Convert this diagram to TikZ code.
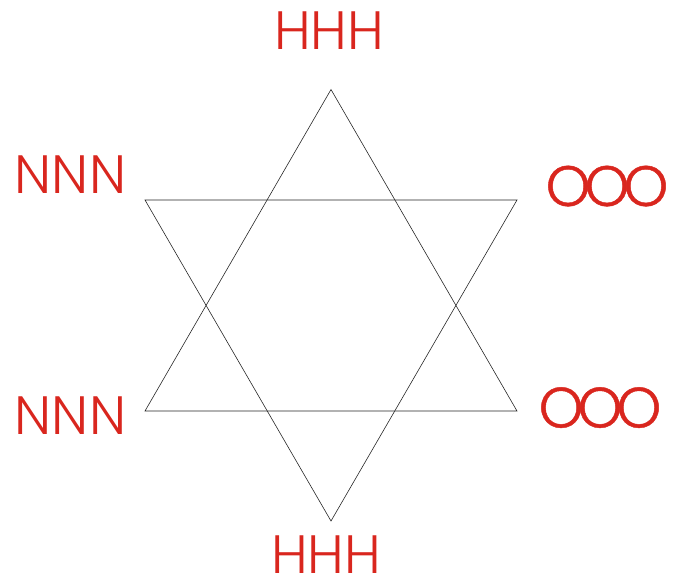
\documentclass[tikz,border=0pt]{standalone}
\usepackage{fontspec}
\setmainfont{Poppins Light}
\newfontfamily\ofont{Poppins Light}[FakeBold=0.8]
\definecolor{labred}{RGB}{217,38,30}
\tikzset{
  edge/.style={draw=black!85, line width=0.6pt, line join=miter},
  lbl/.style={text=labred, font=\fontsize{54}{54}\selectfont, inner sep=0pt, anchor=base}
}
\newcommand{\ooo}{{\ofont\fontsize{57}{57}\selectfont O\kern-6pt O\kern-6pt O}}
\begin{document}
\begin{tikzpicture}[x=1pt,y=-1pt]
\useasboundingbox (0,0) rectangle (677,579);
\coordinate (T) at (331,89.5);
\coordinate (B) at (331,521);
\coordinate (LT) at (145,200);
\coordinate (RT) at (517,200);
\coordinate (LB) at (145,411);
\coordinate (RB) at (517,411);
\draw[edge] (T) -- (RB) -- (LB) -- cycle;
\draw[edge] (LT) -- (RT) -- (B) -- cycle;
\node[lbl] (h1) at (329,49) {HHH};
\node[lbl] (n1) at (70.5,193) {NNN};
\node[lbl] (o1) at (607,206) {\ooo};
\node[lbl] (n2) at (70.5,434.5) {NNN};
\node[lbl] (o2) at (600,427.5) {\ooo};
\node[lbl] (h2) at (326,573) {HHH};
\end{tikzpicture}
\end{document}
